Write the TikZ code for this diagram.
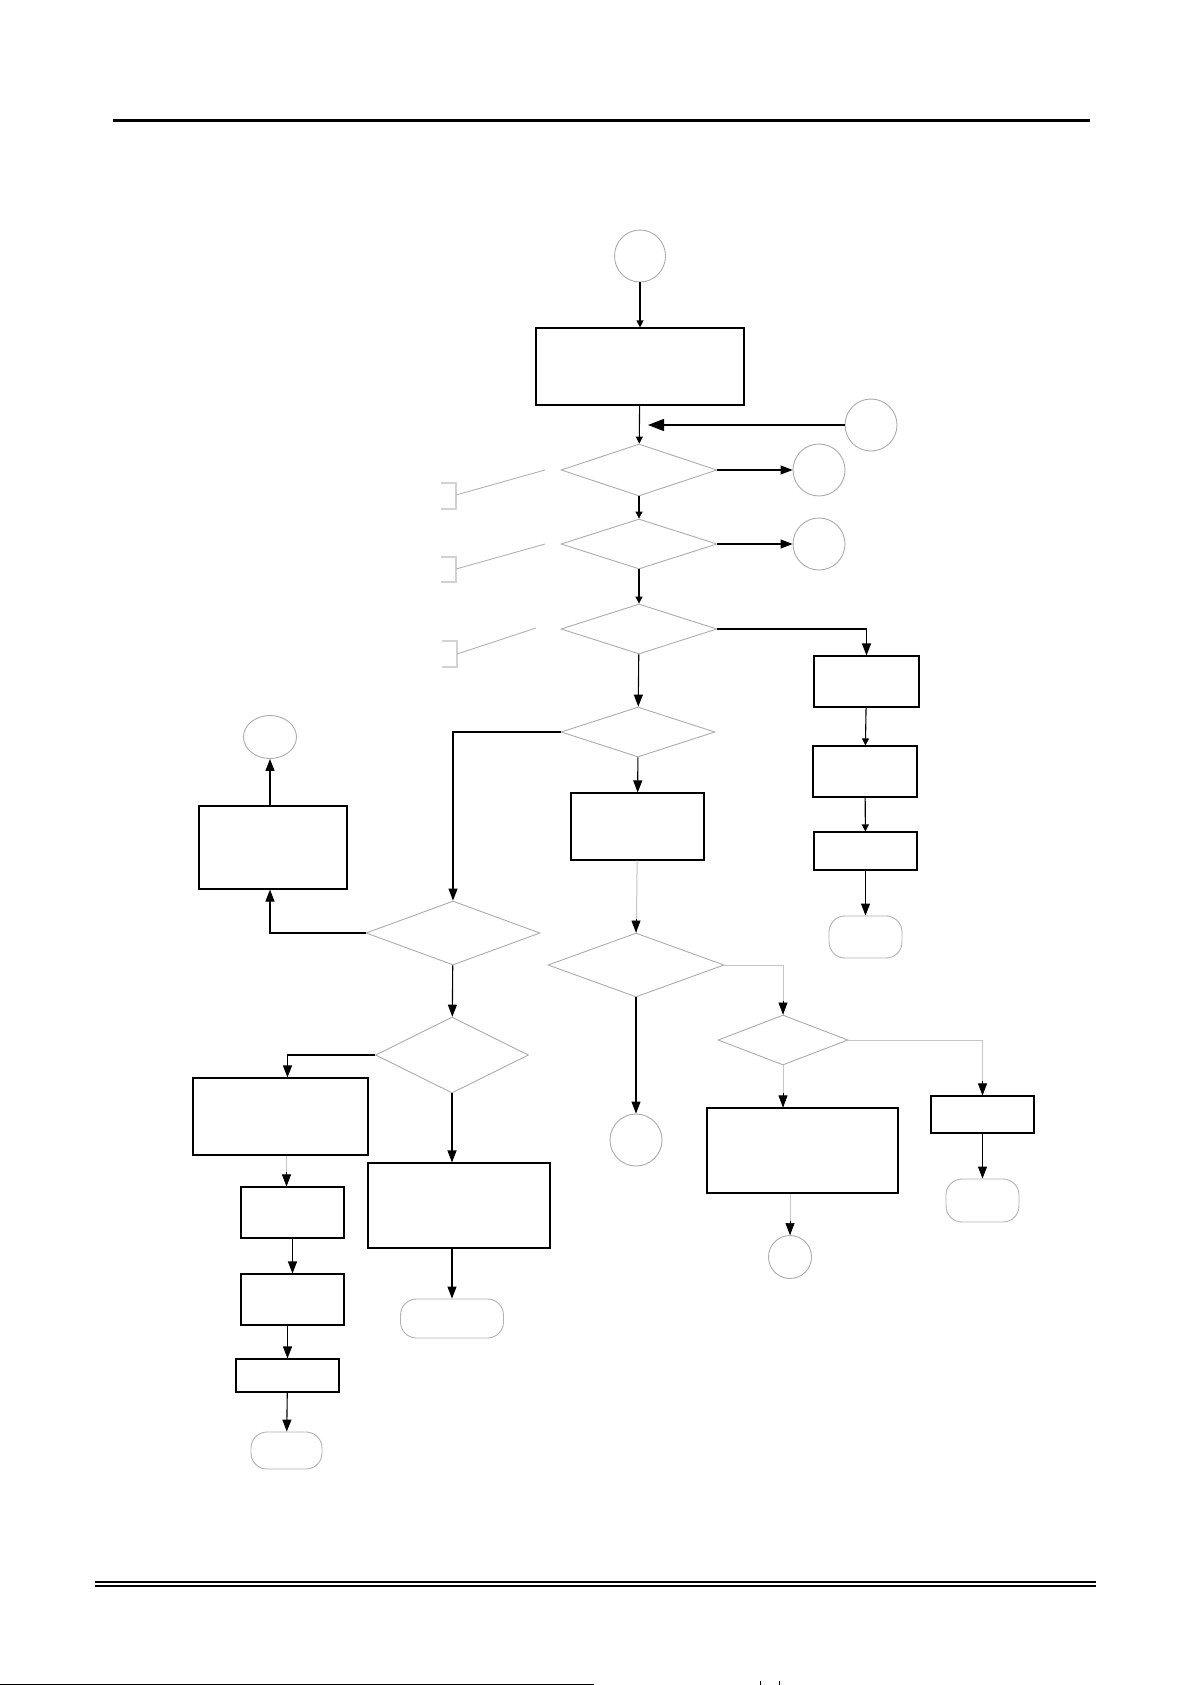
\documentclass[tikz,border=0pt]{standalone}
\usetikzlibrary{arrows.meta,shapes.geometric}
\tikzset{
  box/.style={draw=black,line width=0.55pt,rectangle,inner sep=0pt},
  dia/.style={draw=gray!65,line width=0.45pt,diamond,inner sep=0pt},
  circ/.style={draw=gray!65,line width=0.45pt,ellipse,inner sep=0pt},
  term/.style={draw=gray!60,line width=0.45pt,rectangle,rounded corners=8pt,inner sep=0pt},
  con/.style={draw=black,line width=0.55pt,-{Triangle[width=4.5pt,length=6pt]}},
  cons/.style={draw=black,line width=0.55pt,-{Triangle[width=3.5pt,length=3.5pt]}},
  conb/.style={draw=black,line width=0.55pt,-{Triangle[width=6pt,length=8pt]}},
  gline/.style={draw=gray!45,line width=0.5pt},
  gtip/.style={draw=black,fill=black,line width=0.3pt,-{Triangle[width=4.5pt,length=6pt,color=black,fill=black]}},
  brk/.style={draw=gray!35,line width=0.6pt},
  brkline/.style={draw=gray!60,line width=0.45pt},
}
\begin{document}
\begin{tikzpicture}[x=0.5pt,y=-0.5pt]
\useasboundingbox[fill=white] (0,0) rectangle (1191,1685);
% header and footer rules
\draw[line width=1.6pt] (113,120.5) -- (1090,120.5);
\draw[line width=1.1pt] (95,1582) -- (1096,1582);
\draw[line width=1.1pt] (95,1586) -- (1096,1586);
\draw[line width=0.6pt] (0,1684.3) -- (594,1684.3);
\draw[line width=0.5pt] (760,1681) -- (760,1685);
\draw[line width=0.5pt] (779,1681) -- (779,1685);

% top column
\node[circ,minimum width=25.5pt,minimum height=26pt] (start) at (640,256) {};
\node[box,minimum width=104pt,minimum height=38.5pt] (box1) at (640,366.5) {};
\node[circ,minimum width=26pt,minimum height=26pt] (cR) at (871,425) {};
\coordinate (j1) at (648,425);
\node[dia,minimum width=78pt,minimum height=26pt] (d1) at (639,470) {};
\node[circ,minimum width=26pt,minimum height=26pt] (c1) at (819,470) {};
\node[dia,minimum width=78pt,minimum height=25pt] (d2) at (639,544) {};
\node[circ,minimum width=26pt,minimum height=26pt] (c2) at (819,544) {};
\node[dia,minimum width=78pt,minimum height=25pt] (d3) at (639,629) {};

% right column
\node[box,minimum width=52.5pt,minimum height=25.5pt] (boxR) at (866.5,681.5) {};
\node[box,minimum width=52pt,minimum height=25.5pt] (boxS) at (865,771.5) {};
\node[box,minimum width=51.5pt,minimum height=19pt] (boxT) at (865.5,851) {};
\node[term,minimum width=36.5pt,minimum height=21pt] (termU) at (865.5,937) {};

% middle
\node[dia,minimum width=77pt,minimum height=25pt] (d4) at (638,732) {};
\node[box,minimum width=66.5pt,minimum height=33.5pt] (boxM) at (637.5,826.5) {};
\node[dia,minimum width=88pt,minimum height=32pt] (d5) at (636,965) {};
\node[circ,minimum width=26pt,minimum height=26pt] (cM) at (636,1140) {};
\node[dia,minimum width=65pt,minimum height=25pt] (d6) at (783,1040) {};
\node[box,minimum width=95.5pt,minimum height=42.5pt] (boxN) at (802.5,1150.5) {};
\node[circ,minimum width=21.5pt,minimum height=21.5pt] (cQ) at (790,1257) {};
\node[box,minimum width=51.5pt,minimum height=18.5pt] (boxO) at (982.5,1114.5) {};
\node[term,minimum width=36.5pt,minimum height=21.5pt] (termP) at (982.5,1200.5) {};

% left
\node[circ,minimum width=26.5pt,minimum height=21.5pt] (cL) at (270,737) {};
\node[box,minimum width=74pt,minimum height=41.5pt] (boxL) at (273,847.5) {};
\node[dia,minimum width=87pt,minimum height=32pt] (dL1) at (453,933) {};
\node[dia,minimum width=76.5pt,minimum height=38pt] (dL2) at (452,1055) {};
\node[box,minimum width=87.5pt,minimum height=38.5pt] (boxA) at (280.5,1116.5) {};
\node[box,minimum width=51.5pt,minimum height=25.5pt] (boxB) at (292.5,1212.5) {};
\node[box,minimum width=51.5pt,minimum height=25.5pt] (boxC) at (292.5,1299.5) {};
\node[box,minimum width=51.5pt,minimum height=16.5pt] (boxD) at (287.5,1375.5) {};
\node[term,minimum width=35.5pt,minimum height=18.5pt] (termE) at (286.5,1450.5) {};
\node[box,minimum width=91pt,minimum height=42.5pt] (boxF) at (459,1205.5) {};
\node[term,minimum width=51.5pt,minimum height=19.5pt] (termG) at (452,1318.5) {};

% bracket callouts
\coordinate (b1t) at (441,483); \coordinate (b1b) at (441,509);
\draw[brk] (b1t) -- ++(15,0) -- ++(0,26) -- (b1b);
\coordinate (b1m) at (456,495); \coordinate (b1e) at (545,470);
\draw[brkline] (b1m) -- (b1e);
\coordinate (b2t) at (441,557); \coordinate (b2b) at (441,582);
\draw[brk] (b2t) -- ++(15,0) -- ++(0,25) -- (b2b);
\coordinate (b2m) at (456,569); \coordinate (b2e) at (545,544);
\draw[brkline] (b2m) -- (b2e);
\coordinate (b3t) at (442,641); \coordinate (b3b) at (442,667);
\draw[brk] (b3t) -- ++(15,0) -- ++(0,26) -- (b3b);
\coordinate (b3m) at (457,654); \coordinate (b3e) at (536,628);
\draw[brkline] (b3m) -- (b3e);

% connectors top
\draw[cons] (start) -- (box1);
\draw[cons] (box1) -- (d1);
\draw[conb] (cR) -- (j1);
\draw[con] (d1) -- (c1);
\draw[cons] (d1) -- (d2);
\draw[con] (d2) -- (c2);
\draw[cons] (d2) -- (d3);
\draw[con] (d3.east) -| (boxR.north);
\draw[con] (d3) -- (d4);
% right column
\draw[cons] (boxR) -- (boxS);
\draw[cons] (boxS) -- (boxT);
\draw[con] (boxT) -- (termU);
% middle
\draw[con] (d4) -- (boxM);
\draw[con] (d4.west) -| (dL1.north);
\draw[gline] (boxM) -- (d5);
\draw[gtip] ([yshift=7pt]d5.north) -- (d5.north);
\draw[con] (d5) -- (cM);
\draw[gline] (d5.east) -| (d6.north);
\draw[gtip] ([yshift=7pt]d6.north) -- (d6.north);
\draw[gline] (d6.south) -- (d6.south |- boxN.north);
\draw[gtip] ([yshift=7pt]d6.south |- boxN.north) -- (d6.south |- boxN.north);
\draw[gline] (d6.east) -| (boxO.north);
\draw[gtip] ([yshift=7pt]boxO.north) -- (boxO.north);
\draw[con] (boxO) -- (termP);
\draw[gline] (cQ.north |- boxN.south) -- (cQ.north);
\draw[gtip] ([yshift=7pt]cQ.north) -- (cQ.north);
% left
\draw[con] (boxL.north -| cL.south) -- (cL.south);
\draw[con] (dL1.west) -| (boxL.south -| cL.south);
\draw[con] (dL1) -- (dL2);
\draw[con] (dL2.west) -| (boxA.north -| boxD.north);
\draw[gline] (boxA.south -| termE.north) -- (boxB.north -| termE.north);
\draw[gtip] ([yshift=7pt]boxB.north -| termE.north) -- (boxB.north -| termE.north);
\draw[con] (boxB) -- (boxC);
\draw[con] (boxC.south -| boxD.north) -- (boxD.north);
\draw[con] (boxD) -- (termE);
\draw[con] (dL2.south) -- (dL2.south |- boxF.north);
\draw[con] (boxF.south -| termG.north) -- (termG.north);
\end{tikzpicture}
\end{document}
